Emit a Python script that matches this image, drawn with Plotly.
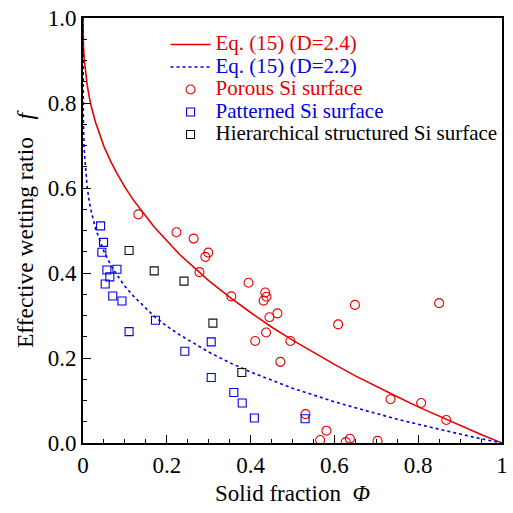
import plotly.graph_objects as go

# Curves (Eq. 15)
phi_curve = [0, 0.00001, 0.0001, 0.0005, 0.001, 0.003, 0.007, 0.01, 0.015, 0.02, 0.03, 0.04, 0.05,
             0.065, 0.08, 0.1, 0.12, 0.17, 0.2, 0.23, 0.3, 0.35, 0.4, 0.45, 0.5, 0.55, 0.6,
             0.65, 0.7, 0.75, 0.8, 0.85, 0.9, 0.95, 1.0]
f_d24 = [1.0, 0.990, 0.975, 0.952, 0.937, 0.902, 0.863, 0.842, 0.814, 0.791, 0.754, 0.724, 0.698,
         0.665, 0.636, 0.602, 0.572, 0.508, 0.475, 0.444, 0.382, 0.343, 0.307, 0.273, 0.242, 0.213, 0.185,
         0.158, 0.133, 0.109, 0.085, 0.063, 0.041, 0.020, 0.0]
f_d22 = [1.0, 0.900, 0.842, 0.781, 0.749, 0.687, 0.629, 0.602, 0.568, 0.543, 0.504, 0.475, 0.451,
         0.421, 0.397, 0.369, 0.346, 0.298, 0.275, 0.255, 0.214, 0.189, 0.167, 0.148, 0.129, 0.113, 0.097,
         0.083, 0.069, 0.056, 0.044, 0.032, 0.021, 0.010, 0.0]

# Porous Si surface
porous_x = [0.132, 0.223, 0.264, 0.299, 0.292, 0.278, 0.395, 0.354, 0.435, 0.438, 0.431, 0.445,
            0.464, 0.437, 0.411, 0.495, 0.471, 0.649, 0.609, 0.850, 0.734, 0.807, 0.867, 0.531,
            0.581, 0.566, 0.627, 0.637, 0.703]
porous_y = [0.538, 0.496, 0.481, 0.448, 0.438, 0.402, 0.377, 0.345, 0.354, 0.344, 0.335, 0.296,
            0.305, 0.260, 0.240, 0.240, 0.191, 0.325, 0.279, 0.329, 0.103, 0.094, 0.054, 0.068,
            0.029, 0.007, 0.002, 0.010, 0.005]

# Patterned Si surface
pattern_x = [0.042, 0.049, 0.045, 0.057, 0.081, 0.064, 0.053, 0.071, 0.093, 0.110, 0.173, 0.243,
             0.306, 0.306, 0.360, 0.380, 0.409, 0.530]
pattern_y = [0.511, 0.472, 0.449, 0.407, 0.409, 0.391, 0.374, 0.346, 0.334, 0.262, 0.289, 0.216,
             0.238, 0.154, 0.119, 0.094, 0.059, 0.057]

# Hierarchical structured Si surface
hier_x = [0.110, 0.170, 0.241, 0.310, 0.379]
hier_y = [0.453, 0.405, 0.381, 0.282, 0.166]

x_ticks = [0, 0.2, 0.4, 0.6, 0.8, 1.0]
x_ticktext = ["0", "0.2", "0.4", "0.6", "0.8", "1"]
y_ticks = [0, 0.2, 0.4, 0.6, 0.8, 1.0]
y_ticktext = ["0.0", "0.2", "0.4", "0.6", "0.8", "1.0"]

FONT = "Liberation Serif"
RED = "#e60000"
BLUE = "#0000e6"


def lg(text, color):
    return f'<span style="color:{color};font-size:21px">{text}</span>'


fig = go.Figure()
fig.add_trace(go.Scatter(x=phi_curve, y=f_d24, mode="lines",
                         line=dict(color=RED, width=1.6),
                         name=lg("Eq. (15) (D=2.4)", RED)))
fig.add_trace(go.Scatter(x=phi_curve, y=f_d22, mode="lines",
                         line=dict(color=BLUE, width=1.6, dash="dot"),
                         name=lg("Eq. (15) (D=2.2)", BLUE)))
fig.add_trace(go.Scatter(x=porous_x, y=porous_y, mode="markers",
                         marker=dict(symbol="circle-open", size=9, color=RED, line=dict(width=1.1)),
                         name=lg("Porous Si surface", RED)))
fig.add_trace(go.Scatter(x=pattern_x, y=pattern_y, mode="markers",
                         marker=dict(symbol="square-open", size=8, color=BLUE, line=dict(width=1.1)),
                         name=lg("Patterned Si surface", BLUE)))
fig.add_trace(go.Scatter(x=hier_x, y=hier_y, mode="markers",
                         marker=dict(symbol="square-open", size=8, color="#111111", line=dict(width=1.1)),
                         name=lg("Hierarchical structured Si surface", "#000000")))

fig.update_xaxes(
    range=[0, 1], tickvals=x_ticks, ticktext=x_ticktext,
    showline=True, linecolor="black", linewidth=1.8, mirror=True,
    ticks="inside", ticklen=8, tickwidth=1.3, tickcolor="black",
    showgrid=False, zeroline=False,
    tickfont=dict(family=FONT, size=23, color="black"),
    minor=dict(dtick=0.05, ticks="inside", ticklen=4, tickwidth=1.1, tickcolor="black"),
    title=dict(text="Solid fraction  <i>Φ</i>\u00a0\u00a0\u00a0", font=dict(family=FONT, size=23, color="black"), standoff=8),
)
fig.update_yaxes(
    range=[0, 1], tickvals=y_ticks, ticktext=y_ticktext,
    showline=True, linecolor="black", linewidth=1.8, mirror=True,
    ticks="inside", ticklen=8, tickwidth=1.3, tickcolor="black",
    showgrid=False, zeroline=False,
    tickfont=dict(family=FONT, size=23, color="black"),
    minor=dict(dtick=0.05, ticks="inside", ticklen=4, tickwidth=1.1, tickcolor="black"),
    title=dict(text="Effective wetting ratio   <i>f</i>\u00a0\u00a0\u00a0", font=dict(family=FONT, size=23.5, color="black"), standoff=8),
)

fig.update_layout(
    width=513, height=513,
    margin=dict(l=83, r=5, t=18, b=70),
    paper_bgcolor="white", plot_bgcolor="white",
    font=dict(family=FONT, color="black"),
    legend=dict(x=0.197, y=0.976, xanchor="left", yanchor="top",
                bgcolor="rgba(0,0,0,0)", borderwidth=0,
                font=dict(family=FONT, size=15, color="black"),
                itemwidth=40, tracegroupgap=0),
)

fig.write_html("out.html")
